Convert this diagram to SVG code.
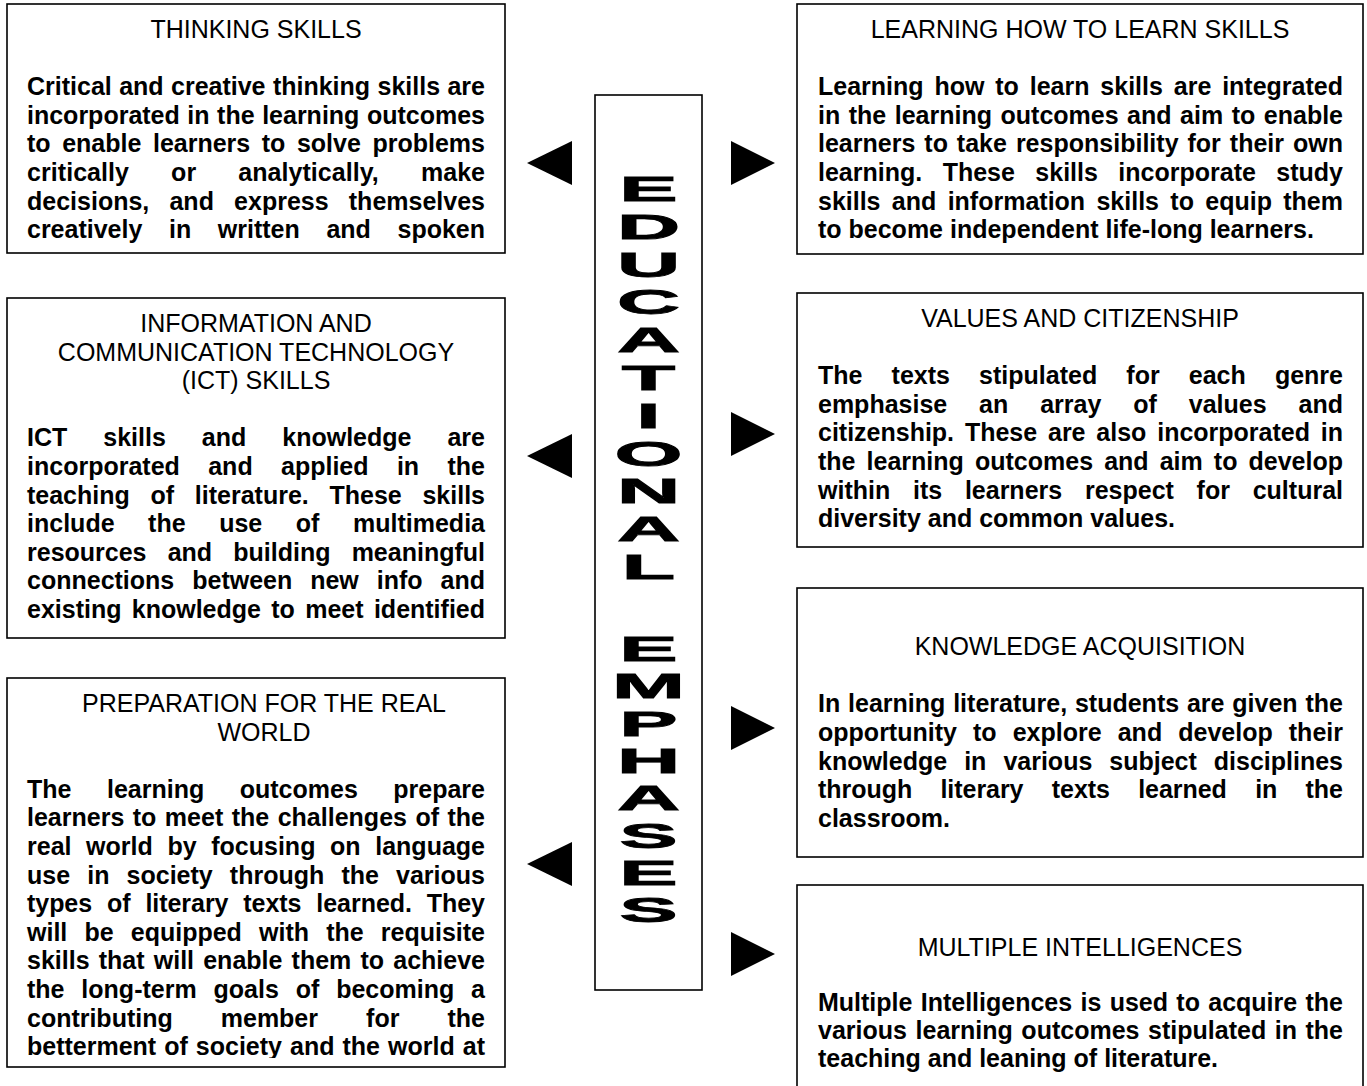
<svg xmlns="http://www.w3.org/2000/svg" width="1367" height="1086" viewBox="0 0 1367 1086">
<style>
.box{fill:#fff;stroke:#000;stroke-width:1.6}
.t{font-family:"Liberation Sans",Arial,sans-serif;font-size:25px;text-anchor:middle;fill:#000}
.b{font-family:"Liberation Sans",Arial,sans-serif;font-size:25px;font-weight:bold;fill:#000}
.v{font-family:"Liberation Sans",Arial,sans-serif;font-size:35px;font-weight:bold;text-anchor:middle;fill:#000;stroke:#000;stroke-width:0.8}
.tri{fill:#000}
</style>
<defs>
<clipPath id="clipL3"><rect x="7" y="678" width="498" height="380"/></clipPath>
</defs>
<rect width="1367" height="1086" fill="#fff"/>

<g id="thinking-skills">
<rect class="box" x="7" y="4" width="498" height="249"/>
<text class="t" x="256" y="38">THINKING SKILLS</text>
<text class="b" x="27" y="95.2" textLength="458" lengthAdjust="spacing" word-spacing="0.45">Critical and creative thinking skills are</text>
<text class="b" x="27" y="123.8" textLength="458" lengthAdjust="spacing" word-spacing="0.6">incorporated in the learning outcomes</text>
<text class="b" x="27" y="152.4" textLength="458" lengthAdjust="spacing" word-spacing="4.6">to enable learners to solve problems</text>
<text class="b" x="27" y="181" textLength="458" lengthAdjust="spacing" word-spacing="35">critically or analytically, make</text>
<text class="b" x="27" y="209.6" textLength="458" lengthAdjust="spacing" word-spacing="13.2">decisions, and express themselves</text>
<text class="b" x="27" y="238.2" textLength="458" lengthAdjust="spacing" word-spacing="19.7">creatively in written and spoken</text>
</g>

<g id="ict-skills">
<rect class="box" x="7" y="298" width="498" height="340"/>
<text class="t" x="256" y="332">INFORMATION AND</text>
<text class="t" x="256" y="360.6">COMMUNICATION TECHNOLOGY</text>
<text class="t" x="256" y="389.2">(ICT) SKILLS</text>
<text class="b" x="27" y="446.4" textLength="458" lengthAdjust="spacing" word-spacing="29.1">ICT skills and knowledge are</text>
<text class="b" x="27" y="475" textLength="458" lengthAdjust="spacing" word-spacing="21.4">incorporated and applied in the</text>
<text class="b" x="27" y="503.6" textLength="458" lengthAdjust="spacing" word-spacing="13.8">teaching of literature. These skills</text>
<text class="b" x="27" y="532.2" textLength="458" lengthAdjust="spacing" word-spacing="26.6">include the use of multimedia</text>
<text class="b" x="27" y="560.8" textLength="458" lengthAdjust="spacing" word-spacing="14.2">resources and building meaningful</text>
<text class="b" x="27" y="589.4" textLength="458" lengthAdjust="spacing" word-spacing="11">connections between new info and</text>
<text class="b" x="27" y="618" textLength="458" lengthAdjust="spacing" word-spacing="3.4">existing knowledge to meet identified</text>
</g>

<g id="real-world">
<rect class="box" x="7" y="678" width="498" height="389"/>
<text class="t" x="264" y="712">PREPARATION FOR THE REAL</text>
<text class="t" x="264" y="740.6">WORLD</text>
<g clip-path="url(#clipL3)">
<text class="b" x="27" y="797.8" textLength="458" lengthAdjust="spacing" word-spacing="28.6">The learning outcomes prepare</text>
<text class="b" x="27" y="826.4" textLength="458" lengthAdjust="spacing" word-spacing="1.5">learners to meet the challenges of the</text>
<text class="b" x="27" y="855" textLength="458" lengthAdjust="spacing" word-spacing="7.7">real world by focusing on language</text>
<text class="b" x="27" y="883.6" textLength="458" lengthAdjust="spacing" word-spacing="10.2">use in society through the various</text>
<text class="b" x="27" y="912.2" textLength="458" lengthAdjust="spacing" word-spacing="8">types of literary texts learned. They</text>
<text class="b" x="27" y="940.8" textLength="458" lengthAdjust="spacing" word-spacing="10.2">will be equipped with the requisite</text>
<text class="b" x="27" y="969.4" textLength="458" lengthAdjust="spacing" word-spacing="2.2">skills that will enable them to achieve</text>
<text class="b" x="27" y="998" textLength="458" lengthAdjust="spacing" word-spacing="9.9">the long-term goals of becoming a</text>
<text class="b" x="27" y="1026.6" textLength="458" lengthAdjust="spacing" word-spacing="41.2">contributing member for the</text>
<text class="b" x="27" y="1055.2" textLength="458" lengthAdjust="spacing" word-spacing="1.1">betterment of society and the world at</text>
</g>
</g>

<g id="learning-how-to-learn">
<rect class="box" x="797" y="4" width="566" height="250"/>
<text class="t" x="1080" y="38">LEARNING HOW TO LEARN SKILLS</text>
<text class="b" x="818" y="95.2" textLength="525" lengthAdjust="spacing" word-spacing="3.9">Learning how to learn skills are integrated</text>
<text class="b" x="818" y="123.8" textLength="525" lengthAdjust="spacing" word-spacing="1.6">in the learning outcomes and aim to enable</text>
<text class="b" x="818" y="152.4" textLength="525" lengthAdjust="spacing" word-spacing="2">learners to take responsibility for their own</text>
<text class="b" x="818" y="181" textLength="525" lengthAdjust="spacing" word-spacing="13.5">learning. These skills incorporate study</text>
<text class="b" x="818" y="209.6" textLength="525" lengthAdjust="spacing" word-spacing="4.4">skills and information skills to equip them</text>
<text class="b" x="818" y="238.2">to become independent life-long learners.</text>
</g>

<g id="values-citizenship">
<rect class="box" x="797" y="293" width="566" height="254"/>
<text class="t" x="1080" y="327">VALUES AND CITIZENSHIP</text>
<text class="b" x="818" y="384.2" textLength="525" lengthAdjust="spacing" word-spacing="22.2">The texts stipulated for each genre</text>
<text class="b" x="818" y="412.8" textLength="525" lengthAdjust="spacing" word-spacing="25">emphasise an array of values and</text>
<text class="b" x="818" y="441.4" textLength="525" lengthAdjust="spacing" word-spacing="3.9">citizenship. These are also incorporated in</text>
<text class="b" x="818" y="470" textLength="525" lengthAdjust="spacing" word-spacing="4.1">the learning outcomes and aim to develop</text>
<text class="b" x="818" y="498.6" textLength="525" lengthAdjust="spacing" word-spacing="15.8">within its learners respect for cultural</text>
<text class="b" x="818" y="527.2">diversity and common values.</text>
</g>

<g id="knowledge-acquisition">
<rect class="box" x="797" y="588" width="566" height="269"/>
<text class="t" x="1080" y="655">KNOWLEDGE ACQUISITION</text>
<text class="b" x="818" y="712.4" textLength="525" lengthAdjust="spacing" word-spacing="0.9">In learning literature, students are given the</text>
<text class="b" x="818" y="741" textLength="525" lengthAdjust="spacing" word-spacing="9.1">opportunity to explore and develop their</text>
<text class="b" x="818" y="769.6" textLength="525" lengthAdjust="spacing" word-spacing="10.1">knowledge in various subject disciplines</text>
<text class="b" x="818" y="798.2" textLength="525" lengthAdjust="spacing" word-spacing="21.4">through literary texts learned in the</text>
<text class="b" x="818" y="826.8">classroom.</text>
</g>

<g id="multiple-intelligences">
<rect class="box" x="797" y="885" width="566" height="210"/>
<text class="t" x="1080" y="956">MULTIPLE INTELLIGENCES</text>
<text class="b" x="818" y="1011" textLength="525" lengthAdjust="spacing" word-spacing="1.4">Multiple Intelligences is used to acquire the</text>
<text class="b" x="818" y="1039" textLength="525" lengthAdjust="spacing" word-spacing="1.6">various learning outcomes stipulated in the</text>
<text class="b" x="818" y="1067">teaching and leaning of literature.</text>
</g>

<g id="educational-emphases">
<rect class="box" x="595" y="95" width="107" height="895"/>
<text class="v" transform="translate(648.5,201) scale(2.5,1)">E</text>
<text class="v" transform="translate(648.5,238.8) scale(2.5,1)">D</text>
<text class="v" transform="translate(648.5,276.6) scale(2.5,1)">U</text>
<text class="v" transform="translate(648.5,314.4) scale(2.5,1)">C</text>
<text class="v" transform="translate(648.5,352.2) scale(2.5,1)">A</text>
<text class="v" transform="translate(648.5,390) scale(2.5,1)">T</text>
<text class="v" transform="translate(648.5,427.8) scale(2.5,1)">I</text>
<text class="v" transform="translate(648.5,465.6) scale(2.5,1)">O</text>
<text class="v" transform="translate(648.5,503.4) scale(2.5,1)">N</text>
<text class="v" transform="translate(648.5,541.2) scale(2.5,1)">A</text>
<text class="v" transform="translate(648.5,579) scale(2.5,1)">L</text>
<text class="v" transform="translate(648.5,661) scale(2.5,1)">E</text>
<text class="v" transform="translate(648.5,698.3) scale(2.5,1)">M</text>
<text class="v" transform="translate(648.5,735.6) scale(2.5,1)">P</text>
<text class="v" transform="translate(648.5,772.9) scale(2.5,1)">H</text>
<text class="v" transform="translate(648.5,810.2) scale(2.5,1)">A</text>
<text class="v" transform="translate(648.5,847.5) scale(2.5,1)">S</text>
<text class="v" transform="translate(648.5,884.8) scale(2.5,1)">E</text>
<text class="v" transform="translate(648.5,922.1) scale(2.5,1)">S</text>
</g>

<g id="connectors">
<polygon class="tri" points="527,163 572,141 572,185"/>
<polygon class="tri" points="527,456 572,434 572,478"/>
<polygon class="tri" points="527,864 572,842 572,886"/>
<polygon class="tri" points="775,163 731,141 731,185"/>
<polygon class="tri" points="775,434 731,412 731,456"/>
<polygon class="tri" points="775,728 731,706 731,750"/>
<polygon class="tri" points="775,954 731,932 731,976"/>
</g>
</svg>
